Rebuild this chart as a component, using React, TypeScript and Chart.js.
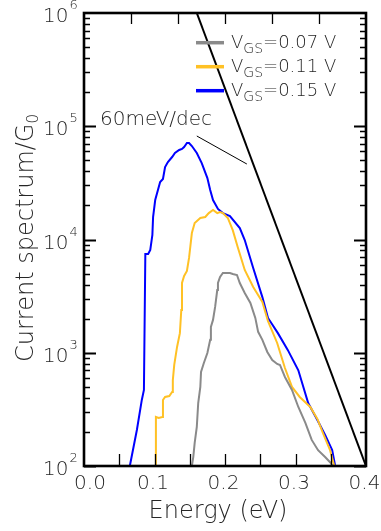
import { useEffect, useRef } from "react";
import { Chart, registerables } from "chart.js";

Chart.register(...registerables);

// ---- data (Energy in eV, current spectrum / G0) ----
const energy007 = [0.153, 0.155, 0.157, 0.160, 0.162, 0.165, 0.166, 0.170, 0.175, 0.179, 0.180, 0.183, 0.186, 0.189, 0.190, 0.193, 0.197, 0.203, 0.207, 0.211, 0.217, 0.221, 0.228, 0.236, 0.243, 0.247, 0.253, 0.260, 0.267, 0.274, 0.278, 0.285, 0.295, 0.304, 0.314, 0.323, 0.332, 0.342, 0.349, 0.353];
const current007 = [100, 120, 160, 221, 360, 499, 677, 812, 995, 1300, 1690, 1950, 2540, 3580, 4130, 4670, 5060, 5060, 5060, 4960, 4860, 4130, 3370, 2750, 2030, 1530, 1300, 1016, 863, 796, 780, 611, 469, 332, 240, 170, 138, 120, 108, 100];

const energy011 = [0.102, 0.102, 0.106, 0.111, 0.112, 0.115, 0.121, 0.125, 0.126, 0.128, 0.132, 0.136, 0.138, 0.139, 0.142, 0.146, 0.149, 0.153, 0.157, 0.165, 0.172, 0.177, 0.183, 0.189, 0.193, 0.197, 0.204, 0.211, 0.218, 0.228, 0.240, 0.253, 0.261, 0.274, 0.285, 0.295, 0.306, 0.321, 0.331, 0.339, 0.349, 0.355];
const current011 = [100, 271, 266, 271, 383, 407, 415, 450, 574, 780, 1125, 1490, 2390, 4130, 4760, 5270, 6870, 11400, 14000, 15500, 15800, 17100, 18200, 17100, 17500, 17100, 15500, 12100, 8590, 5380, 3810, 2810, 1905, 1220, 733, 499, 407, 332, 260, 195, 138, 100];

const energy015 = [0.065, 0.075, 0.082, 0.085, 0.087, 0.091, 0.094, 0.097, 0.098, 0.101, 0.108, 0.112, 0.115, 0.119, 0.125, 0.129, 0.135, 0.139, 0.142, 0.146, 0.149, 0.153, 0.160, 0.167, 0.175, 0.179, 0.183, 0.190, 0.197, 0.207, 0.221, 0.228, 0.240, 0.253, 0.261, 0.275, 0.289, 0.304, 0.318, 0.331, 0.342, 0.352, 0.356];
const current015 = [100, 208, 383, 469, 7450, 7450, 8100, 11000, 15800, 22300, 32200, 34200, 43600, 48300, 53500, 58000, 61700, 63000, 65600, 71200, 71200, 66900, 58000, 47300, 34900, 27400, 22300, 18600, 17100, 16100, 12600, 9900, 5600, 3100, 2030, 1490, 1060, 700, 360, 255, 188, 138, 102];

// 60 meV/dec reference line and its pointer
const refEnergy = [0.16, 0.4];
const refCurrent = [1e6, 1e2];
const pointerEnergy = [0.160, 0.231];
const pointerCurrent = [82000, 46400];
const annotText = "60meV/dec";
const annotAnchor = { x: 0.0227, y: 102600 };

// series meta
const seriesLabels = ["0.07", "0.11", "0.15"];
const seriesColors = ["#8a8a8a", "#ffc125", "#0000ff"];

// axes
const xMin = 0;
const xMax = 0.4;
const yMin = 1e2;
const yMax = 1e6;
const xTickValues = [0, 0.1, 0.2, 0.3, 0.4];
const xTickLabels = ["0.0", "0.1", "0.2", "0.3", "0.4"];
const xMinorBottom = [0.05, 0.1, 0.15, 0.2, 0.25, 0.3, 0.35];
const xTopTicks = [0.4 / 6, 0.8 / 6, 1.2 / 6, 1.6 / 6, 2.0 / 6];
const yTickValues = [1e2, 1e3, 1e4, 1e5, 1e6];
const yTickExps = ["2", "3", "4", "5", "6"];
const xTitle = "Energy (eV)";
const yTitleMain = "Current spectrum/G";
const yTitleSub = "0";

const TXT = "#262626";
const FF = '"DejaVu Sans", "Noto Sans", sans-serif';
const W = "200";

function toXY(xs: number[], ys: number[]) {
  return xs.map((x, i) => ({ x, y: ys[i] }));
}

const decor = {
  id: "decor",
  afterDatasetsDraw(chart: any) {
    const { ctx, chartArea: a, scales } = chart;
    const sx = scales.x;
    const sy = scales.y;
    ctx.save();
    ctx.strokeStyle = "#000";
    ctx.lineCap = "butt";

    // y ticks (log, major + minor), both sides
    for (let d = 2; d < 6; d++) {
      for (let m = 1; m <= 9; m++) {
        const v = m * Math.pow(10, d);
        const py = Math.round(sy.getPixelForValue(v)) + 0.5;
        const major = m === 1;
        const len = major ? 12 : 6;
        ctx.lineWidth = major ? 2 : 1.6;
        ctx.beginPath();
        ctx.moveTo(a.left, py);
        ctx.lineTo(a.left + len, py);
        ctx.moveTo(a.right, py);
        ctx.lineTo(a.right - len, py);
        ctx.stroke();
      }
    }
    // bottom ticks
    ctx.lineWidth = 1.3;
    for (const v of xMinorBottom) {
      const px = Math.round(sx.getPixelForValue(v)) + 0.5;
      ctx.beginPath();
      ctx.moveTo(px, a.bottom);
      ctx.lineTo(px, a.bottom - 12);
      ctx.stroke();
    }
    // top ticks
    for (const v of xTopTicks) {
      const px = Math.round(sx.getPixelForValue(v)) + 0.5;
      ctx.beginPath();
      ctx.moveTo(px, a.top);
      ctx.lineTo(px, a.top + 11);
      ctx.stroke();
    }
    // frame
    ctx.lineWidth = 2.6;
    ctx.strokeRect(a.left, a.top, a.right - a.left, a.bottom - a.top);

    ctx.fillStyle = TXT;
    // x tick labels
    ctx.font = `${W} 20px ${FF}`;
    ctx.textAlign = "center";
    ctx.textBaseline = "alphabetic";
    xTickValues.forEach((v, i) => {
      const px = sx.getPixelForValue(v);
      const off = i === 0 ? 6 : -1.5;
      ctx.fillText(xTickLabels[i], px + off, a.bottom + 23);
    });
    // y tick labels 10^n
    yTickValues.forEach((v, i) => {
      const py = sy.getPixelForValue(v);
      ctx.font = `${W} 20px ${FF}`;
      ctx.textAlign = "right";
      ctx.fillText("10", 68.5, py + 9);
      ctx.font = `${W} 13px ${FF}`;
      ctx.textAlign = "left";
      ctx.fillText(yTickExps[i], 69.5, py - 4);
    });

    // x title
    ctx.font = `${W} 24px ${FF}`;
    ctx.textAlign = "center";
    ctx.fillText(xTitle, 218, 518);

    // y title (rotated)
    ctx.save();
    ctx.translate(33, 238);
    ctx.rotate(-Math.PI / 2);
    ctx.font = `${W} 24px ${FF}`;
    const wMain = ctx.measureText(yTitleMain).width;
    ctx.font = `${W} 15px ${FF}`;
    const wSub = ctx.measureText(yTitleSub).width;
    const start = -(wMain + wSub) / 2;
    ctx.textAlign = "left";
    ctx.font = `${W} 24px ${FF}`;
    ctx.fillText(yTitleMain, start, 0);
    ctx.font = `${W} 15px ${FF}`;
    ctx.fillText(yTitleSub, start + wMain, 5);
    ctx.restore();

    // annotation text
    ctx.font = `${W} 20px ${FF}`;
    ctx.textAlign = "left";
    ctx.fillText(annotText, sx.getPixelForValue(annotAnchor.x), sy.getPixelForValue(annotAnchor.y));

    // legend
    const rows = [42.7, 66.7, 90.7];
    seriesLabels.forEach((lab, i) => {
      const ly = rows[i];
      ctx.strokeStyle = seriesColors[i];
      ctx.lineWidth = 3.5;
      ctx.beginPath();
      ctx.moveTo(196, ly);
      ctx.lineTo(224, ly);
      ctx.stroke();
      let tx = 231;
      const base = ly + 5.5;
      ctx.fillStyle = TXT;
      ctx.textAlign = "left";
      ctx.font = `${W} 18px ${FF}`;
      ctx.fillText("V", tx, base);
      tx += ctx.measureText("V").width;
      ctx.font = `${W} 14px ${FF}`;
      ctx.fillText("GS", tx, base + 4.5);
      tx += ctx.measureText("GS").width;
      ctx.font = `${W} 18px ${FF}`;
      ctx.fillText(`=${lab} V`, tx, base);
    });

    ctx.restore();
  },
};

export default function App() {
  const ref = useRef<HTMLCanvasElement | null>(null);
  useEffect(() => {
    if (!ref.current) return;
    const line = (data: any, color: string, width: number) => ({
      data,
      borderColor: color,
      backgroundColor: color,
      borderWidth: width,
      pointRadius: 0,
      tension: 0,
      fill: false,
    });
    const chart = new Chart(ref.current, {
      type: "line",
      data: {
        datasets: [
          line(toXY(refEnergy, refCurrent), "#000000", 2),
          line(toXY(pointerEnergy, pointerCurrent), "#000000", 1),
          line(toXY(energy007, current007), seriesColors[0], 2),
          line(toXY(energy011, current011), seriesColors[1], 2),
          line(toXY(energy015, current015), seriesColors[2], 2),
        ],
      },
      options: {
        animation: false,
        responsive: false,
        devicePixelRatio: 1,
        layout: { padding: { left: 84, top: 13, right: 15, bottom: 65 } },
        plugins: { legend: { display: false }, tooltip: { enabled: false } },
        scales: {
          x: { type: "linear", min: xMin, max: xMax, display: false },
          y: { type: "logarithmic", min: yMin, max: yMax, display: false },
        },
      },
      plugins: [decor],
    } as any);
    return () => chart.destroy();
  }, []);
  return (
    <div style={{ position: "fixed", left: 0, top: 0, width: 381, height: 531, background: "#fff" }}>
      <canvas ref={ref} width={381} height={531} style={{ width: 381, height: 531, display: "block" }} />
    </div>
  );
}
